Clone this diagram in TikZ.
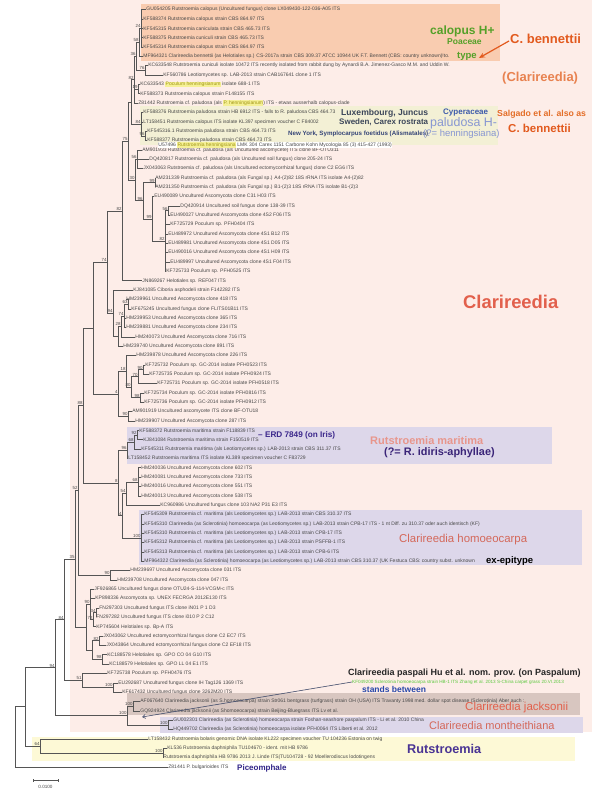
\documentclass[tikz,border=0pt]{standalone}
\usepackage{fontspec}
\setmainfont{Liberation Sans}
\usetikzlibrary{calc,arrows.meta}
\definecolor{bgpink}{RGB}{253,237,232}
\definecolor{calbox}{RGB}{249,204,176}
\definecolor{palbox}{RGB}{243,240,213}
\definecolor{purbox}{RGB}{221,215,234}
\definecolor{jackbox}{RGB}{216,198,192}
\definecolor{rutbox}{RGB}{253,249,214}
\definecolor{treegray}{RGB}{85,85,85}
\definecolor{leafgray}{RGB}{72,72,72}
\definecolor{greenA}{RGB}{84,160,40}
\definecolor{orangeA}{RGB}{226,90,30}
\definecolor{orangeB}{RGB}{232,130,80}
\definecolor{salg}{RGB}{228,110,40}
\definecolor{slate}{RGB}{60,70,90}
\definecolor{cyp}{RGB}{60,90,170}
\definecolor{palH}{RGB}{135,150,210}
\definecolor{nyc}{RGB}{55,70,120}
\definecolor{clar}{RGB}{226,96,76}
\definecolor{erd}{RGB}{60,40,140}
\definecolor{rmar}{RGB}{232,150,140}
\definecolor{idir}{RGB}{58,36,120}
\definecolor{homo}{RGB}{212,104,90}
\definecolor{greenB}{RGB}{90,200,60}
\definecolor{standc}{RGB}{40,72,170}
\definecolor{rutc}{RGB}{74,52,148}
\definecolor{picec}{RGB}{48,36,136}
\definecolor{hlbg}{RGB}{245,240,150}
\definecolor{hltext}{RGB}{160,150,20}
\definecolor{sbline}{RGB}{70,80,110}
\newcommand\R[1]{0.25+9.35*#1}
\newcommand\fs[1]{\fontsize{#1}{#1}\selectfont}
\newcommand\hl[1]{{\setlength\fboxsep{0.3pt}\colorbox{hlbg}{\color{hltext}#1}}}
\newcommand\clade[4]{\path ($(#3)!.5!(#4)$) coordinate (#1m); \coordinate (#1) at (#2,0 |- #1m);}
\newcommand\br[2]{\foreach \c in {#2}{\draw[branch] (#1) |- (\c);}}
\newcommand\bs[2]{\node[bsl] (bs#1) at (#1) {#2};}
\newcommand\lf[4]{\node[leaf] (L#1) at (#2,\R{#1}) {#3#4};}
\tikzset{
 leaf/.style={anchor=west, inner sep=0.2pt, font={\fs{5}}, text=leafgray},
 branch/.style={draw=treegray, line width=0.55pt},
 bsl/.style={anchor=south east, inner sep=0.3pt, font={\fs{4.4}}, text=leafgray},
 ann/.style={anchor=west, inner sep=0pt},
}
\begin{document}
\begin{tikzpicture}[x=1pt,y=-1pt]
\useasboundingbox (0,0) rectangle (592,800);
\fill[white] (0,0) rectangle (592,800);
% backgrounds
\fill[bgpink] (70,0) rectangle (592,732);
\fill[calbox] (141,4) rectangle (500,61);
\fill[palbox] (140,106) rectangle (498,145);
\fill[purbox] (127,427) rectangle (552,464);
\fill[purbox] (139,510) rectangle (582,565);
\fill[jackbox] (127,693) rectangle (580,715);
\fill[purbox] (160,717) rectangle (583,733);
\fill[rutbox] (32,737) rectangle (575,761);
% leaves
\lf{1}{146}{GU054205 Rutstroemia calopus (Uncultured fungus) clone LX049430-122-036-A05 ITS}{}
\lf{2}{143}{KF588374 Rutstroemia calopus strain CBS 864.97 ITS}{}
\lf{3}{143}{KF545315 Rutstroemia caniculata strain CBS 465.73 ITS}{}
\lf{4}{143}{KF588375 Rutstroemia cuniculi strain CBS 465.73 ITS}{}
\lf{5}{143}{KF545314 Rutstroemia calopus strain CBS 864.97 ITS}{}
\lf{6}{143}{MF964321 Clarireedia bennettii (as Helotiales sp.) CS-2017a strain CBS 309.37 ATCC 10944 UK F.T. Bennett (CBS: country unknown)!to.}{}
\lf{7}{148}{KC633548 Rutstroemia cuniculi isolate 10472 ITS recently isolated from rabbit dung by Aynardi B.A. Jimenez-Gasco M.M. and Uddin W.}{}
\lf{8}{163}{KF560786 Leotiomycetes sp. LAB-2013 strain CAB167641 clone 1 ITS}{}
\lf{9}{140}{KC633543 \hl{Poculum henningsianum} isolate 688-1 ITS}{}
\lf{10}{140}{KF588373 Rutstroemia calopus strain F148155 ITS}{}
\lf{11}{138}{Z81442 Rutstroemia cf. paludosa (als \hl{P. henningsianum}) ITS - etwas ausserhalb calopus-clade}{}
\lf{12}{143}{KF588376 Rutstroemia paludosa strain HB 6912 ITS - falls to R. paludosa CBS 464.73}{}
\lf{13}{143}{LT158451 Rutstroemia calopus ITS isolate KL397 specimen voucher C F84002}{}
\lf{14}{147}{KF545316.1 Rutstroemia paludosa strain CBS 464.73 ITS}{}
\lf{15}{147}{KF588377 Rutstroemia paludosa strain CBS 464.73 ITS}{}
\lf{16}{142}{AM901933 Rutstroemia cf. paludosa (als Uncultured ascomycete) ITS clone BF-OTU311}{}
\lf{17}{149}{DQ420817 Rutstroemia cf. paludosa (als Uncultured soil fungus) clone 205-24 ITS}{}
\lf{18}{143}{JX043063 Rutstroemia cf. paludosa (als Uncultured ectomycorrhizal fungus) clone C2 EG6 ITS}{}
\lf{19}{155}{AM231339 Rutstroemia cf. paludosa (als Fungal sp.) A4-(2)82 18S rRNA ITS isolate A4-(2)82}{}
\lf{20}{155}{AM231350 Rutstroemia cf. paludosa (als Fungal sp.) B1-(2)3 18S rRNA ITS isolate B1-(2)3}{}
\lf{21}{154}{EU490089 Uncultured Ascomycota clone C31 H03 ITS}{}
\lf{22}{180}{DQ420914 Uncultured soil fungus clone 138-39 ITS}{}
\lf{23}{170}{EU490027 Uncultured Ascomycota clone 4S2 F06 ITS}{}
\lf{24}{170}{KF725729 Poculum sp. PFH0404 ITS}{}
\lf{25}{168}{EU489972 Uncultured Ascomycota clone 4S1 B12 ITS}{}
\lf{26}{168}{EU489981 Uncultured Ascomycota clone 4S1 D05 ITS}{}
\lf{27}{168}{EU490016 Uncultured Ascomycota clone 4S1 H09 ITS}{}
\lf{28}{170}{EU489997 Uncultured Ascomycota clone 4S1 F04 ITS}{}
\lf{29}{166}{KF725733 Poculum sp. PFH0525 ITS}{}
\lf{30}{142}{JN869267 Helotiales sp. REF047 ITS}{}
\lf{31}{133}{KJ841085 Ciboria asphodeli strain F142282 ITS}{}
\lf{32}{126}{HM239961 Uncultured Ascomycota clone 418 ITS}{}
\lf{33}{131}{KF675245 Uncultured fungus clone FLITS01B11 ITS}{}
\lf{34}{126}{HM239953 Uncultured Ascomycota clone 365 ITS}{}
\lf{35}{126}{HM239881 Uncultured Ascomycota clone 234 ITS}{}
\lf{36}{135}{HM240073 Uncultured Ascomycota clone 716 ITS}{}
\lf{37}{123}{HM239740 Uncultured Ascomycota clone 891 ITS}{}
\lf{38}{136}{HM239878 Uncultured Ascomycota clone 226 ITS}{}
\lf{39}{145}{KF725732 Poculum sp. GC-2014 isolate PFH0523 ITS}{}
\lf{40}{149}{KF725735 Poculum sp. GC-2014 isolate PFH0924 ITS}{}
\lf{41}{157}{KF725731 Poculum sp. GC-2014 isolate PFH0518 ITS}{}
\lf{42}{144}{KF725734 Poculum sp. GC-2014 isolate PFH0816 ITS}{}
\lf{43}{144}{KF725736 Poculum sp. GC-2014 isolate PFH0912 ITS}{}
\lf{44}{132}{AM901919 Uncultured ascomycete ITS clone BF-OTU18}{}
\lf{45}{135}{HM239907 Uncultured Ascomycota clone 287 ITS}{}
\lf{46}{139}{KF588372 Rutstroemia maritima strain F118839 ITS}{}
\lf{47}{143}{KJ841084 Rutstroemia maritima strain F150519 ITS}{}
\lf{48}{141}{KF545311 Rutstroemia maritima (als Leotiomycetes sp.) LAB-2013 strain CBS 311.37 ITS}{}
\lf{49}{128}{LT158452 Rutstroemia maritima ITS isolate KL389 specimen voucher C F83729}{}
\lf{50}{141}{HM240036 Uncultured Ascomycota clone 602 ITS}{}
\lf{51}{141}{HM240081 Uncultured Ascomycota clone 733 ITS}{}
\lf{52}{141}{HM240016 Uncultured Ascomycota clone 551 ITS}{}
\lf{53}{141}{HM240013 Uncultured Ascomycota clone 538 ITS}{}
\lf{54}{160}{KC960986 Uncultured fungus clone 103 NA2 P31 E3 ITS}{}
\lf{55}{144}{KF545309 Rutstroemia cf. maritima (als Leotiomycetes sp.) LAB-2013 strain CBS 310.37 ITS}{}
\lf{56}{144}{KF545310 Clarireedia (as Sclerotinia) homoeocarpa (as Leotiomycetes sp.) LAB-2013 strain CPB-17 ITS - 1 nt Diff. zu 310.37 oder auch identisch (KF)}{}
\lf{57}{144}{KF545310 Rutstroemia cf. maritima (als Leotiomycetes sp.) LAB-2013 strain CPB-17 ITS}{}
\lf{58}{144}{KF545312 Rutstroemia cf. maritima (als Leotiomycetes sp.) LAB-2013 strain PSFFB-1 ITS}{}
\lf{59}{144}{KF545313 Rutstroemia cf. maritima (als Leotiomycetes sp.) LAB-2013 strain CPB-6 ITS}{}
\lf{60}{144}{MF964322 Clarireedia (as Sclerotinia) homoeocarpa (as Leotiomycetes sp.) LAB-2013 strain CBS 310.37 (UK Festuca CBS: country subst. unknown}{}
\lf{61}{130}{HM239697 Uncultured Ascomycota clone 031 ITS}{}
\lf{62}{117}{HM239708 Uncultured Ascomycota clone 047 ITS}{}
\lf{63}{94}{JF926865 Uncultured fungus clone OTU24-S-114-VCGM-c ITS}{}
\lf{64}{95}{KP898336 Ascomycota sp. UNEX FECRGA 2012E130 ITS}{}
\lf{65}{99}{FN297303 Uncultured fungus ITS clone iN01 P 1 D3}{}
\lf{66}{96}{FN297282 Uncultured fungus ITS clone i010 P 2 C12}{}
\lf{67}{96}{KP745604 Helotiales sp. Bp-A ITS}{}
\lf{68}{103}{JX043062 Uncultured ectomycorrhizal fungus clone C2 EC7 ITS}{}
\lf{69}{106}{JX043864 Uncultured ectomycorrhizal fungus clone C2 EF18 ITS}{}
\lf{70}{107}{KC188578 Helotiales sp. GPO CO 04 G10 ITS}{}
\lf{71}{109}{KC188579 Helotiales sp. GPO LL 04 E1 ITS}{}
\lf{72}{107}{KF725738 Poculum sp. PFH0476 ITS}{}
\lf{73}{118}{EU292687 Uncultured fungus clone IH Tag126 1369 ITS}{}
\lf{74}{122}{KF617432 Uncultured fungus clone 3262M20 ITS}{}
\lf{75}{140}{AF067640 Clarireedia jacksonii (as S.homoeocarpa) strain Str061 bentgrass (turfgrass) strain OH (USA) ITS Travanty 1998 med. dollar spot disease (Sclerotinia) Aber auch :}{}
\lf{76}{140}{GQ924924 Clarireedia jacksonii (as Shomoeocarpa) strain Beijing-Bluegrass ITS Lv et al.}{}
\lf{77}{173}{GU002301 Clarireedia (as Sclerotinia) homoeocarpa strain Foshan-seashore paspalum ITS - Li et al. 2010 China}{}
\lf{78}{173}{HQ449702 Clarireedia (as Sclerotinia) homoeocarpa isolate PFH0064 ITS Liberti et al. 2012}{}
\lf{79}{148}{LT158432 Rutstroemia bolaris genomic DNA isolate KL222 specimen voucher TU 104236 Estonia on twig}{}
\lf{80}{167}{KL536 Rutstroemia daphniphila TU104670 - ident. mit HB 9786}{}
\lf{81}{163}{Rutstroemia daphniphila HB 9786 2013 J. Linde ITS|TU104728 - 92 Moellerodiscus lodotingens}{}
\lf{82}{168}{Z81441 P. bulgarioides ITS}{}
\node[leaf, fill=white] (U57) at (158,145) {U57496 \hl{Rutstroemia henningsiana} LMK 304 Carex 1151 Carbone Kohn Mycologia 85 (3) 415-427 (1993)};
% ---- tree ----
\clade{a1}{141}{L1.west}{L5.west}\br{a1}{L1.west,L2.west,L3.west,L4.west,L5.west}\bs{a1}{24}
\clade{a2}{139}{a1}{L6.west}\br{a2}{a1,L6.west}\bs{a2}{58}
\clade{a3}{145}{L7.west}{L8.west}\br{a3}{L7.west,L8.west}\bs{a3}{76}
\clade{a4}{136}{a2}{a3}\br{a4}{a2,a3}\bs{a4}{36}
\clade{a5}{138}{L9.west}{L10.west}\br{a5}{L9.west,L10.west}\bs{a5}{19}
\clade{a6}{134}{a4}{L11.west}\br{a6}{a4,a5,L11.west}\bs{a6}{82}
\clade{b1}{145}{L14.west}{L15.west}\br{b1}{L14.west,L15.west}\bs{b1}{96}
\clade{b2}{141}{L12.west}{b1}\br{b2}{L12.west,L13.west,b1}\bs{b2}{84}
\clade{b3}{131}{a6}{b2}\br{b3}{a6,b2}
\clade{c1}{137}{L16.west}{L18.west}\br{c1}{L16.west,L17.west,L18.west}\bs{c1}{56}
\clade{c2}{155}{L19.west}{L20.west}\br{c2}{L19.west,L20.west}\bs{c2}{99}
\clade{c3}{168}{L22.west}{L23.west}\br{c3}{L22.west,L23.west}\bs{c3}{56}
\clade{c4}{165}{c3}{L29.west}\br{c4}{c3,L24.west,L25.west,L26.west,L27.west,L28.west,L29.west}\bs{c4}{82}
\clade{c5}{152}{L21.west}{c4}\br{c5}{L21.west,c4}\bs{c5}{99}
\clade{c6}{143}{c2}{c5}\br{c6}{c2,c5}\bs{c6}{96}
\clade{c7}{135}{c1}{c6}\br{c7}{c1,c6}\bs{c7}{30}
\clade{top}{128}{b3}{c7}\br{top}{b3,c7}\bs{top}{75}
\clade{n122}{122}{top}{L30.west}\br{n122}{top,L30.west}\bs{n122}{82}
\clade{d1}{128}{L32.west}{L33.west}\br{d1}{L32.west,L33.west}\bs{d1}{63}
\clade{d2}{124}{d1}{L35.west}\br{d2}{d1,L34.west,L35.west}\bs{d2}{74}
\clade{d3}{121}{d2}{L36.west}\br{d3}{d2,L36.west}\bs{d3}{28}
\clade{d4}{118}{d3}{L37.west}\br{d4}{d3,L37.west}
\clade{d5}{113}{L31.west}{d4}\br{d5}{L31.west,d4}\bs{d5}{94}
\clade{n107}{107}{n122}{d5}\br{n107}{n122,d5}\bs{n107}{74}
\clade{e1}{143}{L39.west}{L40.west}\br{e1}{L39.west,L40.west}\bs{e1}{90}
\clade{e2}{138}{e1}{L41.west}\br{e2}{e1,L41.west}\bs{e2}{70}
\clade{e3}{140}{L42.west}{L43.west}\br{e3}{L42.west,L43.west}\bs{e3}{98}
\clade{e4}{131}{e2}{e3}\br{e4}{e2,e3}\bs{e4}{80}
\clade{e5}{126}{L38.west}{e4}\br{e5}{L38.west,e4}\bs{e5}{18}
\clade{e6}{128}{L44.west}{L45.west}\br{e6}{L44.west,L45.west}\bs{e6}{90}
\clade{e7}{118}{e5}{e6}\br{e7}{e5,e6}\bs{e7}{4}
\clade{n93}{93}{n107}{e7}\br{n93}{n107,e7}
\clade{f1}{137}{L46.west}{L47.west}\br{f1}{L46.west,L47.west}\bs{f1}{92}
\clade{f2}{134}{f1}{L48.west}\br{f2}{f1,L48.west}\bs{f2}{68}
\clade{f3}{127}{f2}{L49.west}\br{f3}{f2,L49.west}\bs{f3}{96}
\clade{f4}{138}{L50.west}{L53.west}\br{f4}{L50.west,L51.west,L52.west,L53.west}\bs{f4}{68}
\clade{f5}{126}{f4}{L54.west}\br{f5}{f4,L54.west}\bs{f5}{54}
\clade{f6}{141}{L55.west}{L60.west}\br{f6}{L55.west,L56.west,L57.west,L58.west,L59.west,L60.west}\bs{f6}{100}
\clade{f7}{122}{f5}{f6}\br{f7}{f5,f6}\bs{f7}{4}
\clade{f8}{118}{f3}{f7}\br{f8}{f3,f7}\bs{f8}{8}
\clade{n88}{83}{n93}{f8}\br{n88}{n93,f8}\bs{n88}{88}
\clade{g1}{110}{L61.west}{L62.west}\br{g1}{L61.west,L62.west}\bs{g1}{90}
\clade{n52}{78}{n88}{g1}\br{n52}{n88,g1}\bs{n52}{52}
\clade{h1}{96}{L65.west}{L66.west}\br{h1}{L65.west,L66.west}\bs{h1}{34}
\clade{h2}{93}{h1}{L67.west}\br{h2}{h1,L67.west}\bs{h2}{72}
\clade{k1}{90}{L63.west}{h2}\br{k1}{L63.west,L64.west,h2}\bs{k1}{90}
\clade{i1}{99}{L68.west}{L69.west}\br{i1}{L68.west,L69.west}\bs{i1}{82}
\clade{i2}{102}{L70.west}{L71.west}\br{i2}{L70.west,L71.west}\bs{i2}{98}
\clade{k2}{92}{i1}{i2}\br{k2}{i1,i2}
\clade{k}{86}{k1}{k2}\br{k}{k1,k2}
\clade{D}{75}{n52}{k}\br{D}{n52,k}\bs{D}{35}
\clade{E2}{113}{L73.west}{L74.west}\br{E2}{L73.west,L74.west}\bs{E2}{100}
\clade{E}{82}{L72.west}{E2}\br{E}{L72.west,E2}\bs{E}{51}
\clade{C}{64}{D}{E}\br{C}{D,E}\bs{C}{84}
\clade{jk}{133}{L75.west}{L76.west}\br{jk}{L75.west,L76.west}\bs{jk}{100}
\clade{mo}{168}{L77.west}{L78.west}\br{mo}{L77.west,L78.west}\bs{mo}{100}
\clade{J}{127}{jk}{mo}\br{J}{jk,mo}\bs{J}{100}
\clade{B}{55}{C}{J}\br{B}{C,J}\bs{B}{94}
\clade{dp}{163}{L80.west}{L81.west}\br{dp}{L80.west,L81.west}\bs{dp}{100}
\clade{Rt}{40}{L79.west}{dp}\br{Rt}{L79.west,dp}\bs{Rt}{64}
\clade{A}{25}{B}{Rt}\br{A}{B,Rt}
\clade{Rr}{15}{A}{L82.west}\br{Rr}{A,L82.west}
% ---- annotations ----
\node[ann, font={\fs{12}\bfseries}, text=greenA] (calH) at (430,31) {calopus H+};
\node[ann, font={\fs{8.5}\bfseries}, text=greenA] (poac) at (447,42) {Poaceae};
\node[ann, font={\fs{9.5}\bfseries}, text=greenA] (type) at (457,56) {type};
\node[ann, font={\fs{13}\bfseries}, text=orangeA] (cb1) at (510,39) {C. bennettii};
\draw[orangeA, line width=1.2pt, -{Stealth[length=6pt,width=5pt]}] ([xshift=-1pt,yshift=3pt]cb1.south west) -- ([xshift=2pt,yshift=-2pt]type.east);
\node[ann, font={\fs{13}\bfseries}, text=orangeB] (clar1) at (502,78) {(Clarireedia)};
\node[ann, font={\fs{8.7}\bfseries}, text=salg] (salg) at (497,114) {Salgado et al. also as};
\node[ann, font={\fs{11.5}\bfseries}, text=orangeA] (cb2) at (508,128) {C. bennettii};
\node[ann, font={\fs{8.6}\bfseries}, text=slate] (lux) at (341,113) {Luxembourg, Juncus};
\node[ann, font={\fs{8}\bfseries}, text=slate] (swe) at (339,122) {Sweden, Carex rostrata};
\node[ann, font={\fs{8}\bfseries}, text=cyp] (cype) at (443,113) {Cyperaceae};
\node[ann, font={\fs{12.4}}, text=palH] (palH) at (430,123) {paludosa H-};
\node[ann, font={\fs{6.2}\bfseries}, text=nyc] (ny) at (288,134) {New York, Symplocarpus foetidus (Alismatales)};
\node[ann, font={\fs{9.5}}, text=palH] (henq) at (423,134.5) {(?= henningsiana)};
\node[ann, font={\fs{18.4}\bfseries}, text=clar] (clar2) at (463,302) {Clarireedia};
\node[ann, font={\fs{8.2}\bfseries}, text=erd] (erd) at (258,435) {\textendash{} ERD 7849 (on Iris)};
\node[ann, font={\fs{11}\bfseries}, text=rmar] (rmar) at (370,441) {Rutstroemia maritima};
\node[ann, font={\fs{10.9}\bfseries}, text=idir] (idir) at (384,453) {(?= R. idiris-aphyllae)};
\node[ann, font={\fs{11.4}}, text=homo] (homo) at (399,540) {Clarireedia homoeocarpa};
\node[ann, font={\fs{9.5}\bfseries}, text=black] (epit) at (486,561) {ex-epitype};
\node[ann, font={\fs{9}\bfseries}, text=black!85] (pasp) at (348,673) {Clarireedia paspali Hu et al. nom. prov. (on Paspalum)};
\node[ann, font={\fs{4.6}}, text=greenB] (kf49) at (352,682) {KF049200 Sclerotinia homoeocarpa strain HB-1 ITS Zhang et al. 2013 S-China carpet grass 20.VI.2013};
\node[ann, font={\fs{8.5}\bfseries}, text=standc] (stand) at (362,689) {stands between};
\coordinate (sbtip) at (142,717);
\draw[sbline, line width=0.6pt, -{Straight Barb[length=3pt,width=4pt]}] (kf49.west) -- (sbtip);
\node[ann, font={\fs{11.5}}, text=clar] (jack) at (465,708) {Clarireedia jacksonii};
\node[ann, font={\fs{11}}, text=homo] (mont) at (429,726) {Clarireedia montheithiana};
\node[ann, font={\fs{12.7}\bfseries}, text=rutc] (rutl) at (407,749) {Rutstroemia};
\node[ann, font={\fs{8}\bfseries}, text=picec] (pice) at (237,768) {Piceomphale};
% scale bar
\coordinate (sb1) at (33,780);
\coordinate (sb2) at (58,780);
\draw[treegray, line width=0.5pt] (sb1) -- (sb2);
\draw[treegray, line width=0.5pt] ([yshift=-1.5pt]sb1) -- ([yshift=1.5pt]sb1);
\draw[treegray, line width=0.5pt] ([yshift=-1.5pt]sb2) -- ([yshift=1.5pt]sb2);
\node[font={\fs{4.6}}, text=leafgray] (sbl) at (45.5,787) {0.0100};
\end{tikzpicture}
\end{document}
